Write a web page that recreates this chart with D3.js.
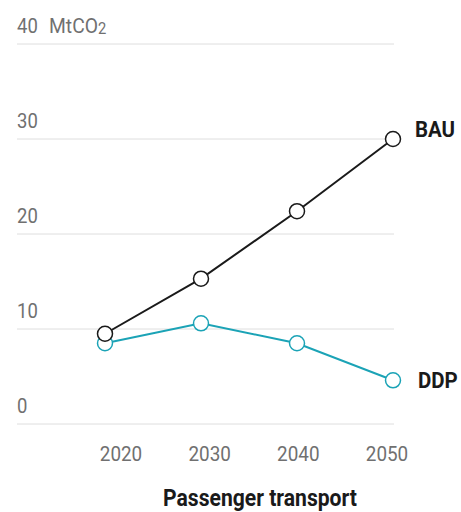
<!DOCTYPE html>
<html>
<head>
<meta charset="utf-8">
<script src="https://cdn.jsdelivr.net/npm/d3@7"></script>
<style>
  html, body { margin: 0; padding: 0; background: #fff; }
  svg { display: block; }
  text { font-family: "Roboto", "Liberation Sans", sans-serif; }
  .tick-label { font-size: 21px; font-weight: 400; fill: #707070; }
  .series-label { font-size: 22px; font-weight: bold; fill: #1a1a1a; }
  .title { font-size: 24px; font-weight: bold; fill: #1a1a1a; }
</style>
</head>
<body>
<script>
// Passenger transport emissions, MtCO2
const years = [2020, 2030, 2040, 2050];
const bau = [9.5, 15.3, 22.4, 30.0];
const ddp = [8.5, 10.6, 8.5, 4.6];
const yTicks = [0, 10, 20, 30, 40];
const unitLabel = "MtCO";

const W = 461, H = 512;
const svg = d3.select("body").append("svg").attr("width", W).attr("height", H);

const y = d3.scaleLinear().domain([0, 40]).range([424, 44]);
const x = d3.scalePoint().domain(years).range([105, 393]);
const xLabel = d3.scalePoint().domain(years).range([121, 387]);

// narrow the text horizontally to get a condensed face
const squeeze = (px, py, sx) => `translate(${px},${py}) scale(${sx},1)`;

// horizontal gridlines
svg.append("g").selectAll("line").data(yTicks).join("line")
  .attr("x1", 17).attr("x2", 394)
  .attr("y1", d => y(d)).attr("y2", d => y(d))
  .attr("stroke", "#dedede").attr("stroke-width", 1);

// y tick labels sit above their gridlines
svg.append("g").selectAll("text").data(yTicks).join("text")
  .attr("class", "tick-label")
  .attr("transform", d => squeeze(17, y(d) - 11, 0.88))
  .text(d => d);

// unit next to the top tick
const unit = svg.append("text").attr("class", "tick-label")
  .attr("transform", squeeze(49, y(40) - 11, 0.92));
unit.append("tspan").text(unitLabel);
unit.append("tspan").attr("font-size", "16px").attr("dy", 1).text("2");

// x tick labels
svg.append("g").selectAll("text").data(years).join("text")
  .attr("class", "tick-label")
  .attr("text-anchor", "middle")
  .attr("transform", d => squeeze(xLabel(d), 461, 0.9))
  .text(d => d);

const line = d3.line().x((d, i) => x(years[i])).y(d => y(d));

function drawSeries(values, color) {
  svg.append("path").datum(values)
    .attr("fill", "none").attr("stroke", color).attr("stroke-width", 2)
    .attr("d", line);
  svg.append("g").selectAll("circle").data(values).join("circle")
    .attr("cx", (d, i) => x(years[i])).attr("cy", d => y(d))
    .attr("r", 7.5)
    .attr("fill", "#fff").attr("stroke", color).attr("stroke-width", 1.5);
}

drawSeries(ddp, "#1ba3b6");
drawSeries(bau, "#1a1a1a");

// series labels
svg.append("text").attr("class", "series-label")
  .attr("transform", squeeze(415, y(bau[3]) - 2, 0.93)).text("BAU");
svg.append("text").attr("class", "series-label")
  .attr("transform", squeeze(418, y(ddp[3]) + 8, 0.93)).text("DDP");

// chart title
svg.append("text").attr("class", "title")
  .attr("text-anchor", "middle")
  .attr("transform", squeeze(260, 506, 0.88))
  .text("Passenger transport");
</script>
</body>
</html>
